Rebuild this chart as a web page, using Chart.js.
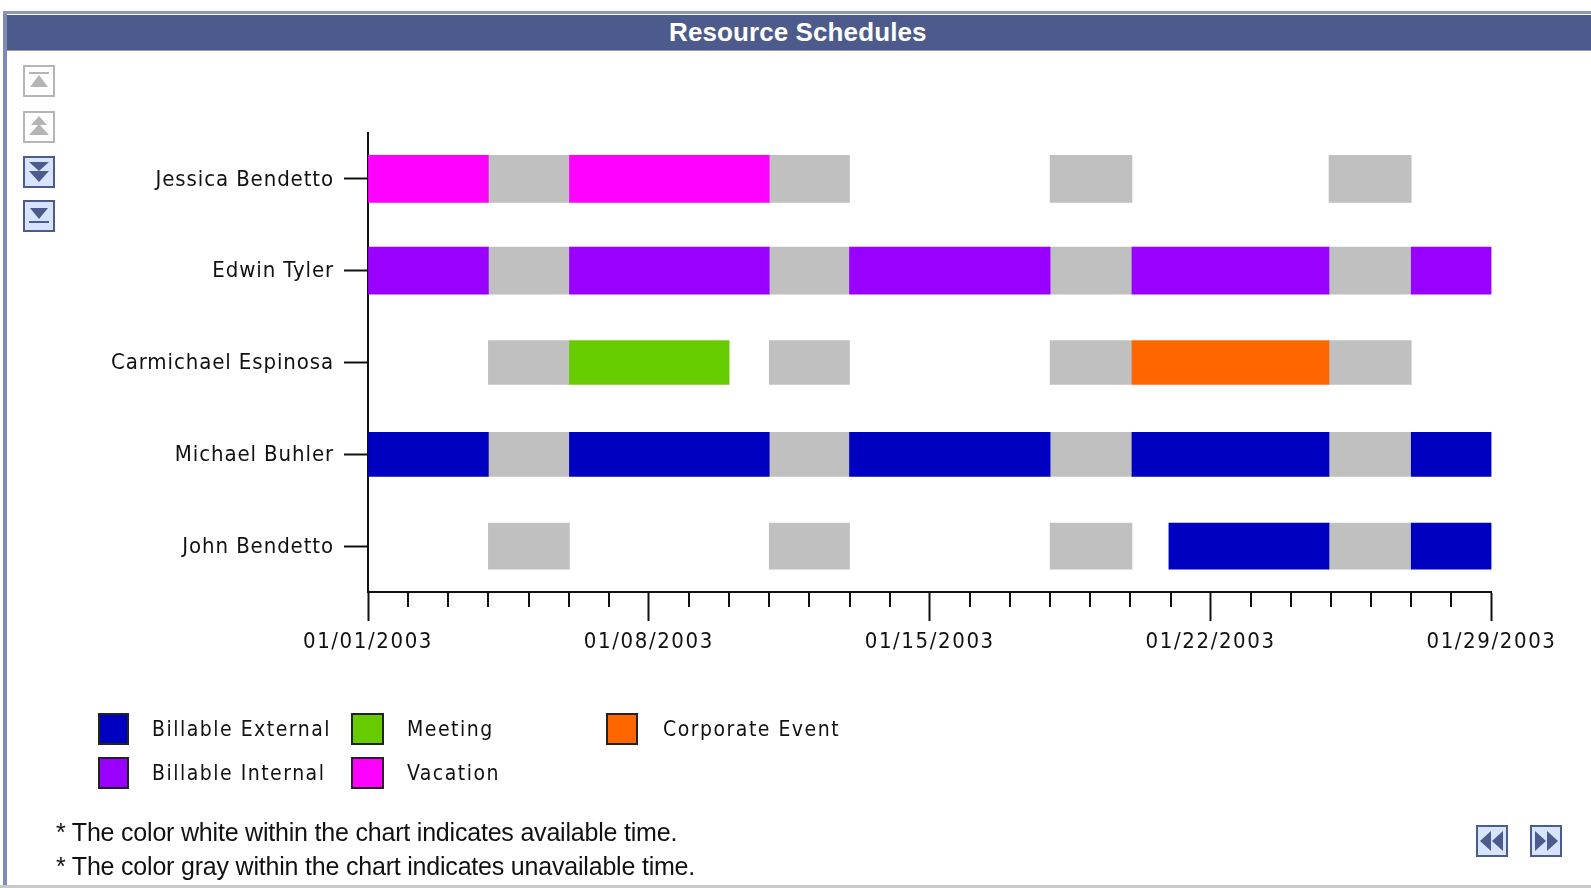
<!DOCTYPE html>
<html>
<head>
<meta charset="utf-8">
<script src="https://cdn.jsdelivr.net/npm/chart.js@4"></script>
<style>
html,body{margin:0;padding:0;background:#fff;width:1591px;height:888px;overflow:hidden}
#stage{position:relative;width:1591px;height:888px;overflow:hidden}
canvas#c{position:absolute;left:0;top:0}
.abs{position:absolute}
#frameL{left:3px;top:11px;width:4px;height:877px;background:#7f8bb5}
#frameT{left:3px;top:11px;width:1588px;height:3px;background:#8b96bd}
#head{left:7px;top:15px;width:1584px;height:36px;background:#4d5b8c;color:#fff;
  font:bold 26px "Liberation Sans",sans-serif;line-height:34px;box-sizing:border-box;border-bottom:1px solid #9a9a9a}
#headT{position:absolute;left:662px;top:0;white-space:nowrap;letter-spacing:0.1px}
#bottom{left:0;top:885px;width:1591px;height:3px;background:#c9c9c9}
.leg{position:absolute;font:21px "DejaVu Sans Condensed","DejaVu Sans",sans-serif;font-stretch:condensed;letter-spacing:1.5px;color:#111;white-space:nowrap;line-height:24px}
.box{position:absolute;box-sizing:border-box;height:32px;border:2px solid #222}
.note{position:absolute;left:56px;font:25px "Liberation Sans",sans-serif;letter-spacing:-0.2px;color:#111;white-space:nowrap;line-height:30px}
svg.icon{position:absolute}
</style>
</head>
<body>
<div id="stage">
<canvas id="c" width="1591" height="888"></canvas>
<div class="abs" id="frameL"></div>
<div class="abs" id="frameT"></div>
<div class="abs" id="head"><span id="headT">Resource Schedules</span></div>
<div class="abs" id="bottom"></div>
<div class="note" style="top:817px">* The color white within the chart indicates available time.</div>
<div class="note" style="top:851px">* The color gray within the chart indicates unavailable time.</div>
</div>
<script>
const categories = ["Jessica Bendetto","Edwin Tyler","Carmichael Espinosa","Michael Buhler","John Bendetto"];
const tickLabels = ["01/01/2003","01/08/2003","01/15/2003","01/22/2003","01/29/2003"];
const dayCount = 28;
// [category index, start day, end day]
const vacation = [[0,0,3],[0,5.02,10]];
const billableInternal = [[1,0,3],[1,5.02,10],[1,12,17],[1,19.04,23.95],[1,26,28]];
const meeting = [[2,5.02,9]];
const corporateEvent = [[2,19.04,23.95]];
const billableExternal = [[3,0,3],[3,5.02,10],[3,12,17],[3,19.04,23.95],[3,26,28],[4,19.96,23.95],[4,26,28]];
const unavailable = [
 [0,3,5.02],[0,10,12],[0,17,19.04],[0,23.95,26],
 [1,3,5.02],[1,10,12],[1,17,19.04],[1,23.95,26],
 [2,3,5.02],[2,10,12],[2,17,19.04],[2,23.95,26],
 [3,3,5.02],[3,10,12],[3,17,19.04],[3,23.95,26],
 [4,3,5.02],[4,10,12],[4,17,19.04],[4,23.95,26]];

const seriesList = [
 {label:"Billable External",color:"#0000c0",rows:billableExternal},
 {label:"Billable Internal",color:"#9900ff",rows:billableInternal},
 {label:"Meeting",color:"#66cc00",rows:meeting},
 {label:"Vacation",color:"#ff00ff",rows:vacation},
 {label:"Corporate Event",color:"#ff6600",rows:corporateEvent},
 {label:"Unavailable",color:"#c0c0c0",rows:unavailable}
];
const rowThickness = [47,47,44,44,46];

const datasets = [];
seriesList.forEach(s=>{
  categories.forEach((cat,i)=>{
    const rows = s.rows.filter(r=>r[0]===i);
    if(!rows.length) return;
    datasets.push({
      label:s.label,
      backgroundColor:s.color,
      borderWidth:0,
      barThickness:rowThickness[i],
      grouped:false,
      data:rows.map(r=>({x:[r[1],r[2]],y:categories[r[0]]}))
    });
  });
});

const AXIS_FONT = {family:'"DejaVu Sans Condensed","DejaVu Sans",sans-serif',size:22,weight:'normal'};
const SPACING = '1.6px';
const Y_SPACING = '0.9px';

function textStyle(chart){
  chart.ctx.letterSpacing=SPACING;
  chart.ctx.fontStretch='condensed';
}
const spacingPlugin = {
  id:'spacing',
  beforeLayout:textStyle,
  beforeDraw(chart){
    textStyle(chart);
    const y=chart.scales.y;
    if(!y._spacedLabels){
      y._spacedLabels=true;
      const orig=y.drawLabels;
      y.drawLabels=function(a){
        chart.ctx.letterSpacing=Y_SPACING;
        orig.call(y,a);
        chart.ctx.letterSpacing=SPACING;
      };
    }
  }
};
const minorTicks = {
  id:'minorTicks',
  afterDraw(chart){
    const s=chart.scales.x, ctx=chart.ctx, y=s.top;
    ctx.save();ctx.strokeStyle='#111';ctx.lineWidth=2;
    s.ticks.forEach(t=>{
      if(t.value%7===0) return;
      const x=Math.round(s.getPixelForValue(t.value));
      ctx.beginPath();ctx.moveTo(x,y);ctx.lineTo(x,y+15);ctx.stroke();
    });
    ctx.restore();
  }
};

new Chart(document.getElementById('c'),{
  type:'bar',
  data:{labels:categories,datasets},
  plugins:[spacingPlugin,minorTicks],
  options:{
    indexAxis:'y',
    responsive:false,
    animation:false,
    events:[],
    layout:{padding:{left:0,top:133,right:99.5,bottom:0}},
    plugins:{legend:{display:false},title:{display:false},tooltip:{enabled:false}},
    scales:{
      x:{
        type:'linear',position:'bottom',min:0,max:dayCount,
        afterFit(s){s.height=296;},
        grid:{drawOnChartArea:false,offset:false,tickLength:29,tickWidth:2,
          tickColor:c=>c.tick&&c.tick.value%7===0?'#111':'rgba(0,0,0,0)'},
        border:{color:'#111',width:2},
        ticks:{stepSize:1,autoSkip:false,maxRotation:0,minRotation:0,padding:8,color:'#111',font:AXIS_FONT,
          callback:v=>v%7===0?tickLabels[v/7]:''}
      },
      y:{
        type:'category',position:'left',offset:true,
        afterFit(s){s.width=368;},
        grid:{drawOnChartArea:false,offset:false,tickLength:24,tickWidth:2,tickColor:'#111'},
        border:{color:'#111',width:2},
        ticks:{padding:10,color:'#111',font:AXIS_FONT,autoSkip:false,labelOffset:1}
      }
    }
  }
});

/* legend */
const stage=document.getElementById('stage');
const legendLayout=[
 {i:0,bx:98,by:713,tx:152,w:31},{i:1,bx:98,by:757,tx:152,w:31},
 {i:2,bx:351,by:713,tx:407,w:33},{i:3,bx:351,by:757,tx:407,w:33},
 {i:4,bx:606,by:713,tx:663,w:32}
];
legendLayout.forEach(l=>{
  const s=seriesList[l.i];
  const b=document.createElement('div');b.className='box';
  b.style.cssText=`left:${l.bx}px;top:${l.by}px;width:${l.w}px;background:${s.color}`;stage.appendChild(b);
  const t=document.createElement('div');t.className='leg';
  t.style.cssText=`left:${l.tx}px;top:${l.by+4}px`;t.textContent=s.label;stage.appendChild(t);
});

/* nav icons */
function icon(x,y,active,shape){
  const bd=active?'#4d5b8c':'#b5b5b5', bg=active?'#d6e4ff':'#ffffff', fg=active?'#4d5b8c':'#b5b5b5';
  stage.insertAdjacentHTML('beforeend',
   `<svg class="icon" style="left:${x}px;top:${y}px" width="32" height="32" viewBox="0 0 32 32">
     <rect x="1" y="1" width="30" height="30" fill="${bg}" stroke="${bd}" stroke-width="2"/>
     <g fill="${fg}">${shape}</g></svg>`);
}
const firstIcon='<rect x="6" y="7" width="20" height="2"/><path d="M16 10 L7 22 H25Z"/>';
const doubleUp='<path d="M16 5 L8 14 L24 14Z"/><path d="M16 13 L6 24 L26 24Z"/>';
const doubleDown='<path d="M6 6 H26 L16 15Z"/><path d="M6 15 H26 L16 26Z"/>';
const downBar='<path d="M7 8 H25 L16 19Z"/><rect x="6" y="21" width="20" height="2"/>';
icon(23,65,false,firstIcon);
icon(23,111,false,doubleUp);
icon(23,156,true,doubleDown);
icon(23,200,true,downBar);
icon(1476,825,true,'<path d="M15 6 V26 L4 16Z"/><path d="M27 6 V26 L16 16Z"/>');
icon(1530,825,true,'<path d="M5 6 V26 L16 16Z"/><path d="M17 6 V26 L28 16Z"/>');
</script>
</body>
</html>
